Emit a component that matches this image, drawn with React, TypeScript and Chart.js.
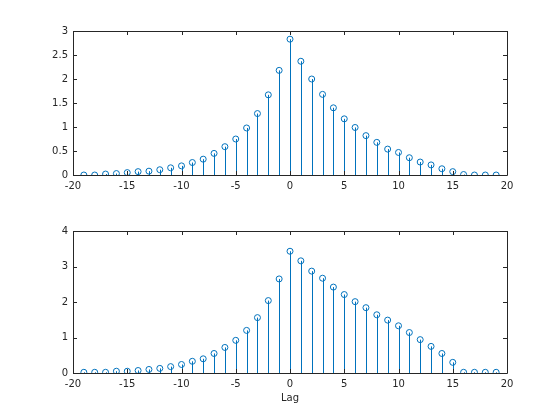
import React, { useEffect, useRef } from "react";
import { Chart, registerables } from "chart.js";

Chart.register(...registerables);

const lags = [-19,-18,-17,-16,-15,-14,-13,-12,-11,-10,-9,-8,-7,-6,-5,-4,-3,-2,-1,0,1,2,3,4,5,6,7,8,9,10,11,12,13,14,15,16,17,18,19];

const topValues = [0.0,0.0,0.02,0.03,0.05,0.07,0.08,0.11,0.15,0.19,0.26,0.33,0.45,0.59,0.75,0.98,1.28,1.67,2.18,2.83,2.37,2.0,1.68,1.40,1.17,0.99,0.82,0.68,0.54,0.47,0.36,0.27,0.21,0.13,0.07,0.01,0.0,0.0,0.0];

const bottomValues = [0.02,0.02,0.02,0.05,0.05,0.07,0.10,0.13,0.18,0.24,0.33,0.40,0.55,0.72,0.92,1.20,1.56,2.04,2.65,3.43,3.16,2.87,2.67,2.42,2.21,2.01,1.84,1.64,1.49,1.33,1.14,0.94,0.75,0.55,0.30,0.02,0.02,0.02,0.02];

const xTicks = [-20,-15,-10,-5,0,5,10,15,20];
const topYTicks = [0,0.5,1,1.5,2,2.5,3];
const bottomYTicks = [0,1,2,3,4];

const BLUE = "#0072BD";
const AXIS = "#262626";
const FONT = "'DejaVu Sans', sans-serif";

const stemPlugin = {
  id: "stems",
  beforeDatasetsDraw(chart: any) {
    const { ctx } = chart;
    const xs = chart.scales.x;
    const ys = chart.scales.y;
    const data = chart.data.datasets[0].data as { x: number; y: number }[];
    const base = ys.getPixelForValue(0);
    ctx.save();
    ctx.strokeStyle = BLUE;
    ctx.lineWidth = 1;
    ctx.beginPath();
    data.forEach((d) => {
      const px = Math.round(xs.getPixelForValue(d.x)) + 0.5;
      ctx.moveTo(px, base);
      ctx.lineTo(px, ys.getPixelForValue(d.y));
    });
    ctx.stroke();
    ctx.restore();
  },
};

const boxPlugin = {
  id: "matlabBox",
  afterDraw(chart: any) {
    const { ctx, chartArea } = chart;
    const { left, right, top, bottom } = chartArea;
    const xs = chart.scales.x;
    const ys = chart.scales.y;
    const L = 4;
    ctx.save();
    ctx.strokeStyle = AXIS;
    ctx.lineWidth = 1;
    ctx.beginPath();
    ctx.rect(Math.round(left) + 0.5, Math.round(top) + 0.5, Math.round(right - left), Math.round(bottom - top));
    ctx.stroke();
    ctx.beginPath();
    xs.ticks.forEach((t: any) => {
      const px = Math.round(xs.getPixelForValue(t.value)) + 0.5;
      ctx.moveTo(px, bottom);
      ctx.lineTo(px, bottom - L);
      ctx.moveTo(px, top);
      ctx.lineTo(px, top + L);
    });
    ys.ticks.forEach((t: any) => {
      const py = Math.round(ys.getPixelForValue(t.value)) + 0.5;
      ctx.moveTo(left, py);
      ctx.lineTo(left + L, py);
      ctx.moveTo(right, py);
      ctx.lineTo(right - L, py);
    });
    ctx.stroke();
    ctx.restore();
  },
};

function makeConfig(values: number[], yTicks: number[], opts: { top: number; bottom: number; xHeight: number; title?: string }) {
  const yMax = yTicks[yTicks.length - 1];
  return {
    type: "scatter" as const,
    data: {
      datasets: [
        {
          data: lags.map((x, i) => ({ x, y: values[i] })),
          showLine: false,
          pointStyle: "circle",
          pointRadius: 3,
          pointBorderWidth: 1,
          pointBackgroundColor: "rgba(0,0,0,0)",
          pointBorderColor: BLUE,
        },
      ],
    },
    options: {
      responsive: false,
      animation: false,
      devicePixelRatio: 1,
      layout: { padding: { left: 0, right: 53, top: opts.top, bottom: opts.bottom } },
      plugins: { legend: { display: false }, tooltip: { enabled: false } },
      scales: {
        x: {
          type: "linear",
          min: -20,
          max: 20,
          offset: false,
          grid: { display: false, drawTicks: false },
          border: { display: false },
          afterBuildTicks: (scale: any) => {
            scale.ticks = xTicks.map((v) => ({ value: v }));
          },
          afterFit: (scale: any) => {
            scale.height = opts.xHeight;
          },
          ticks: {
            color: AXIS,
            font: { family: FONT, size: 10 },
            padding: 5,
            maxRotation: 0,
            autoSkip: false,
            callback: (v: any) => String(v),
          },
          title: opts.title
            ? { display: true, text: opts.title, color: AXIS, font: { family: FONT, size: 10 }, padding: { top: 4, bottom: 0 } }
            : { display: false },
        },
        y: {
          type: "linear",
          min: 0,
          max: yMax,
          grid: { display: false, drawTicks: false },
          border: { display: false },
          afterBuildTicks: (scale: any) => {
            scale.ticks = yTicks.map((v) => ({ value: v }));
          },
          afterFit: (scale: any) => {
            scale.width = 73;
          },
          ticks: {
            color: AXIS,
            font: { family: FONT, size: 10 },
            padding: 5,
            autoSkip: false,
            callback: (v: any) => String(v),
          },
        },
      },
    },
    plugins: [stemPlugin, boxPlugin],
  };
}

function Panel({ values, yTicks, top, bottom, xHeight, title }: { values: number[]; yTicks: number[]; top: number; bottom: number; xHeight: number; title?: string }) {
  const ref = useRef<HTMLCanvasElement | null>(null);
  useEffect(() => {
    if (!ref.current) return;
    const chart = new Chart(ref.current, makeConfig(values, yTicks, { top, bottom, xHeight, title }) as any);
    return () => chart.destroy();
  }, []);
  return <canvas ref={ref} width={560} height={210} style={{ display: "block", width: 560, height: 210 }} />;
}

export default function App() {
  return (
    <div style={{ position: "fixed", left: 0, top: 0, width: 560, height: 420, background: "#fff" }}>
      <Panel values={topValues} yTicks={topYTicks} top={31} bottom={0} xHeight={35} />
      <Panel values={bottomValues} yTicks={bottomYTicks} top={21} bottom={16} xHeight={31} title="Lag" />
    </div>
  );
}
